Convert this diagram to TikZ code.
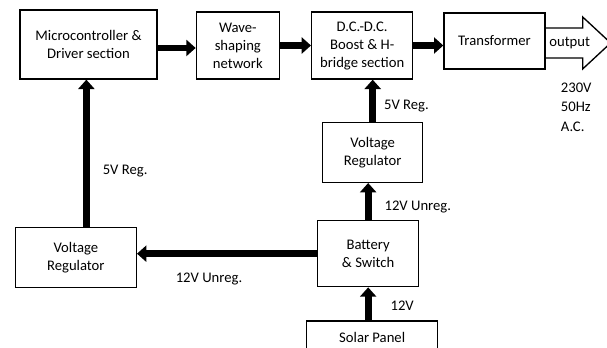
\documentclass[tikz,border=0pt]{standalone}
\usepackage{fontspec}
\setmainfont{Carlito}
\usetikzlibrary{positioning,arrows.meta}

\begin{document}
\begin{tikzpicture}[
  box/.style={draw, line width=1pt, align=center, font=\fontsize{11pt}{13.5pt}\selectfont, inner sep=2pt},
  lbl/.style={font=\fontsize{11pt}{13.5pt}\selectfont},
  arr/.style={line width=5pt, -{Triangle[length=7pt,width=12pt]}}
]
\useasboundingbox (0,0) rectangle (455.25pt,-260.25pt);

\node[box, minimum width=102.75pt, minimum height=51.75pt] (micro) at (66.375pt,-33.375pt) {Microcontroller \&\\ Driver section};
\node[box, right=28.5pt of micro, yshift=-0.75pt, minimum width=62.25pt, minimum height=50.25pt] (wave) {Wave-\\ shaping\\ network};
\node[box, right=23.25pt of wave, minimum width=75.75pt, minimum height=50.25pt] (boost) {D.C.-D.C.\\ Boost \& H-\\ bridge section};
\node[box, right=22.5pt of boost, yshift=3.4pt, minimum width=75.75pt, minimum height=42pt] (trans) {Transformer};

\node[box, below=31.5pt of boost, xshift=7.9pt, minimum width=75pt, minimum height=45pt] (vrR) {Voltage\\ Regulator};
\node[box, below=27.75pt of vrR, xshift=-3.4pt, minimum width=75.75pt, minimum height=49.5pt] (batt) {Battery\\ \& Switch};
\node[box, below=24.75pt of batt, xshift=3pt, minimum width=98.25pt, minimum height=24pt] (solar) {Solar Panel};
\node[box, left=135pt of batt, yshift=-3pt, minimum width=90.75pt, minimum height=45pt] (vrL) {Voltage\\ Regulator};

% output arrow of the transformer
\draw[line width=1pt] ([yshift=-1.5pt]trans.east) ++(0,11.25pt) -- ++(27.75pt,0) -- ++(0,8.25pt) -- ++(21pt,-19.5pt) -- ++(-21pt,-19.5pt) -- ++(0,8.25pt) -- ++(-27.75pt,0);
\node[lbl] (outlbl) at ([xshift=18pt,yshift=-1.5pt]trans.east) {output};
\node[lbl, align=left, inner sep=0pt, font=\fontsize{11pt}{14.6pt}\selectfont, below right=9.75pt and 11.25pt of trans] (acout) {230V\\ 50Hz\\ A.C.};

\draw[arr] ([yshift=-2.6pt]micro.east) -- ([yshift=-2.6pt]micro.east -| wave.west);
\draw[arr] (wave.east) -- (wave.east -| boost.west);
\draw[arr] (boost.east) -- (boost.east -| trans.west);
\draw[arr] (vrR.north) -- node[lbl, pos=0.38, right=2.7pt]{5V Reg.} (vrR.north |- boost.south);
\draw[arr] (batt.north) -- node[lbl, pos=0.35, right=6.5pt]{12V Unreg.} (batt.north |- vrR.south);
\draw[arr] (solar.north -| batt.south) -- node[lbl, pos=0.45, right=11pt]{12V} (batt.south);
\draw[arr] (batt.west) -- node[lbl, pos=0.6, below=8.7pt]{12V Unreg.} (batt.west -| vrL.east);
\draw[arr] ([xshift=7.9pt]vrL.north) -- node[lbl, pos=0.38, right=6.5pt]{5V Reg.} ([xshift=7.9pt]vrL.north |- micro.south);
\end{tikzpicture}
\end{document}
